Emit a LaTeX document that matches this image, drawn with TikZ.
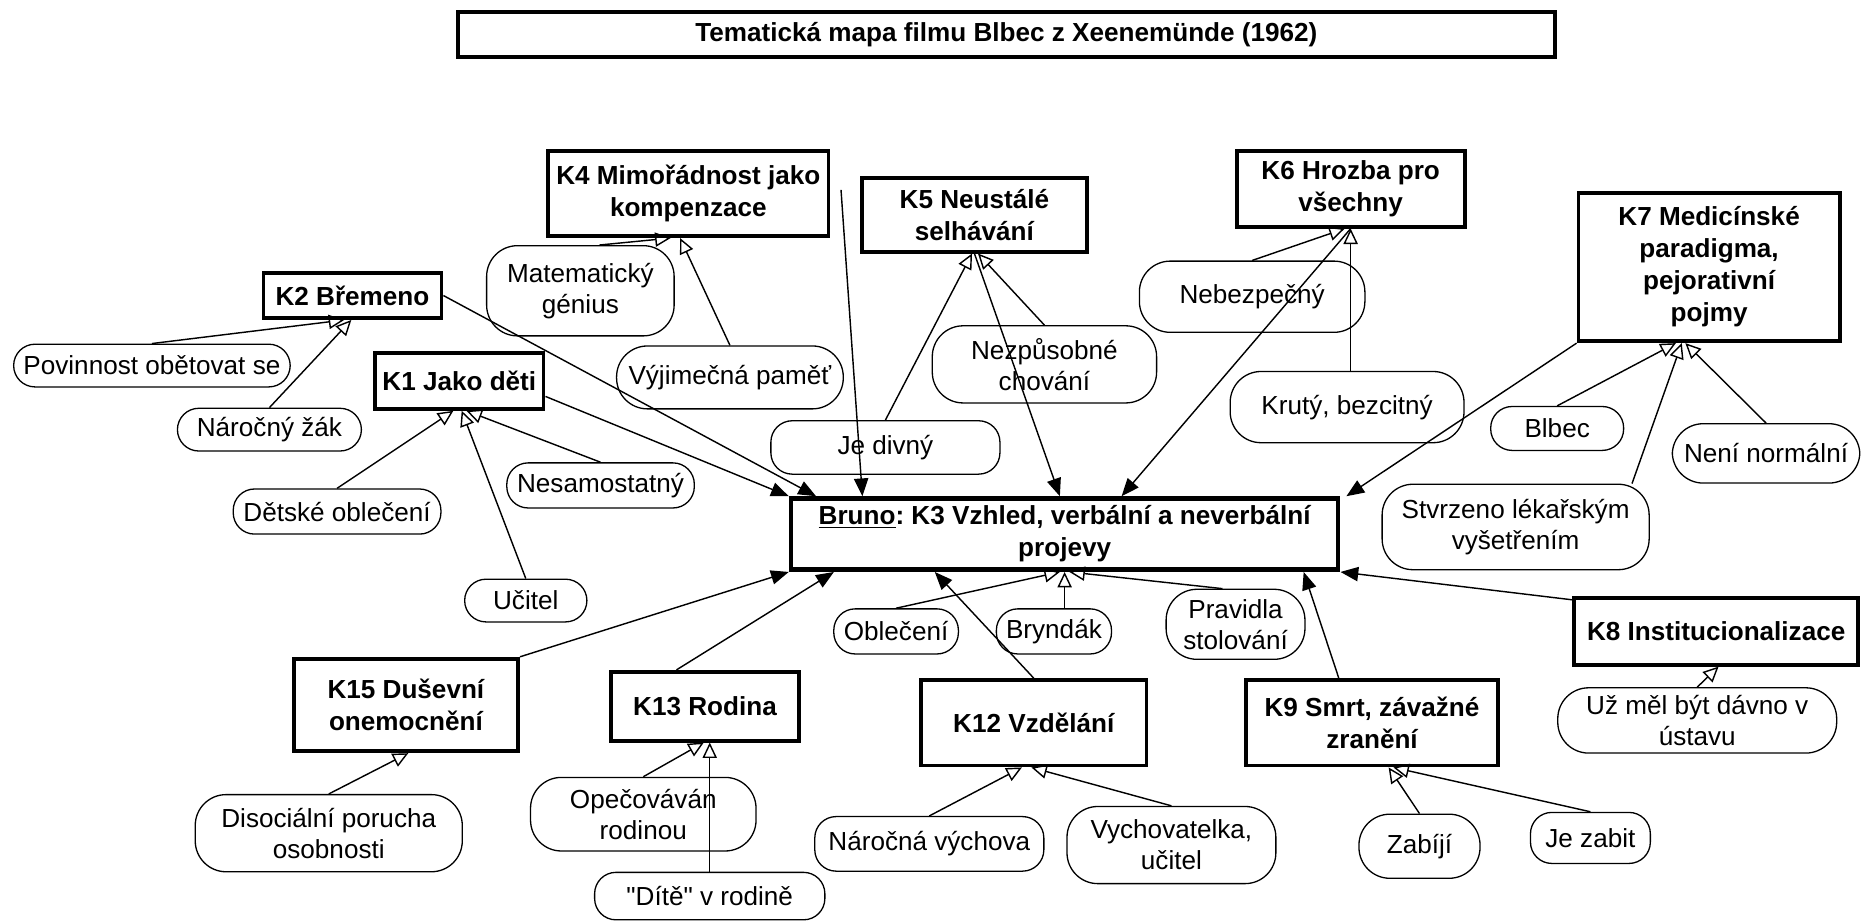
\documentclass[tikz,border=0pt]{standalone}
\usepackage{fontspec}
\setmainfont{Liberation Sans}[Ligatures=TeXOff]
\usepackage{tikz}
\usetikzlibrary{arrows.meta}
\frenchspacing
\tikzstyle{kbox} = [draw, line width=3.2pt, align=center, inner sep=2pt, font=\bfseries\fontsize{22}{27}\selectfont]
\tikzstyle{trait} = [draw, line width=1.1pt, rounded corners=18pt, align=center, inner sep=2pt, font=\fontsize{22}{26}\selectfont]
\tikzstyle{tall} = [rounded corners=26pt]
\tikzstyle{arrow} = [line width=1.2pt, -{Triangle[length=15pt,width=12pt]}]
\tikzstyle{isa} = [line width=1.2pt, -{Triangle[open,length=13pt,width=12pt]}]

\begin{document}
\begin{tikzpicture}[x=1pt, y=-1pt]
\useasboundingbox (0,0) rectangle (1568,776);

% Title
\node[kbox, line width=3.8pt, minimum width=924pt, minimum height=38pt] (title) at (848,29) {Tematická mapa filmu Blbec z Xeenemünde (1962)};

% Themes
\node[kbox, line width=3.8pt, minimum width=461pt, minimum height=60pt] (bruno) at (897,450) {\underline{Bruno}: K3 Vzhled, verbální a neverbální\\projevy};
\node[kbox, minimum width=142pt, minimum height=47pt] (k1) at (387,321) {K1 Jako děti};
\node[kbox, minimum width=150pt, minimum height=38pt] (k2) at (297,249) {K2 Břemeno};
\node[kbox, minimum width=236pt, minimum height=72pt] (k4) at (580,163) {K4 Mimořádnost jako\\kompenzace};
\node[kbox, minimum width=190pt, minimum height=62pt] (k5) at (821,181) {K5 Neustálé\\selhávání};
\node[kbox, minimum width=192pt, minimum height=64pt] (k6) at (1138,159) {K6 Hrozba pro\\všechny};
\node[kbox, minimum width=220pt, minimum height=125pt] (k7) at (1440,225) {K7 Medicínské\\paradigma,\\pejorativní\\pojmy};
\node[kbox, minimum width=239pt, minimum height=56pt] (k8) at (1446,532) {K8 Institucionalizace};
\node[kbox, minimum width=212pt, minimum height=72pt] (k9) at (1156,609) {K9 Smrt, závažné\\zranění};
\node[kbox, minimum width=190pt, minimum height=72pt] (k12) at (871,609) {K12 Vzdělání};
\node[kbox, minimum width=158pt, minimum height=58pt] (k13) at (594,595) {K13 Rodina};
\node[kbox, minimum width=189pt, minimum height=78pt] (k15) at (342,594) {K15 Duševní\\onemocnění};

% Items
\node[trait, tall, minimum width=158pt, minimum height=76pt] (genius) at (489,245) {Matematický\\génius};
\node[trait, tall, minimum width=191pt, minimum height=53pt] (pamet) at (615,318) {Výjimečná paměť};
\node[trait, minimum width=233pt, minimum height=36pt] (povinnost) at (128,308) {Povinnost obětovat se};
\node[trait, minimum width=155pt, minimum height=36pt] (zak) at (227,362) {Náročný žák};
\node[trait, minimum width=175pt, minimum height=38pt] (detske) at (284,431) {Dětské oblečení};
\node[trait, minimum width=158pt, minimum height=38pt] (nesam) at (506,409) {Nesamostatný};
\node[trait, minimum width=103pt, minimum height=36pt] (ucitel) at (443,506) {Učitel};
\node[trait, minimum width=193pt, minimum height=45pt] (divny) at (746,377) {Je divný};
\node[trait, tall, minimum width=189pt, minimum height=65pt] (chovani) at (880,307) {Nezpůsobné\\chování};
\node[trait, tall, minimum width=190pt, minimum height=60pt] (nebezpecny) at (1055,250) {Nebezpečný};
\node[trait, tall, minimum width=197pt, minimum height=60pt] (kruty) at (1135,343) {Krutý, bezcitný};
\node[trait, minimum width=112pt, minimum height=37pt] (blbec) at (1312,361) {Blbec};
\node[trait, tall, minimum width=158pt, minimum height=50pt] (nenormalni) at (1488,382) {Není normální};
\node[trait, tall, minimum width=225pt, minimum height=72pt] (lekar) at (1277,444) {Stvrzeno lékařským\\vyšetřením};
\node[trait, minimum width=105pt, minimum height=38pt] (obleceni) at (755,532) {Oblečení};
\node[trait, minimum width=97pt, minimum height=38pt] (bryndak) at (888,532) {Bryndák};
\node[trait, tall, minimum width=117pt, minimum height=59pt] (stolovani) at (1041,526) {Pravidla\\stolování};
\node[trait, tall, minimum width=235pt, minimum height=55pt] (ustav) at (1430,607) {Už měl být dávno v\\ústavu};
\node[trait, tall, minimum width=225pt, minimum height=65pt] (porucha) at (277,702) {Disociální porucha\\osobnosti};
\node[trait, tall, minimum width=190pt, minimum height=62pt] (opecovavan) at (542,686) {Opečováván\\rodinou};
\node[trait, minimum width=194pt, minimum height=40pt] (dite) at (598,755) {"Dítě" v rodině};
\node[trait, minimum width=193pt, minimum height=46pt] (vychova) at (783,711) {Náročná výchova};
\node[trait, tall, minimum width=176pt, minimum height=65pt] (vychovatelka) at (987,712) {Vychovatelka,\\učitel};
\node[trait, tall, minimum width=102pt, minimum height=54pt] (zabiji) at (1196,713) {Zabíjí};
\node[trait, minimum width=101pt, minimum height=43pt] (zabit) at (1340,706) {Je zabit};

% Themes into Bruno
\draw[arrow] ([yshift=-13pt]k1.east) -- (bruno.north west);
\draw[arrow] (k2.east) -- ([xshift=23pt]bruno.north west);
\draw[arrow] ([xshift=9pt,yshift=3pt]k4.east) -- ([xshift=62pt]bruno.north west);
\draw[arrow] (k5.south) -- ([xshift=-4pt]bruno.north);
\draw[arrow] (k6.south) -- ([xshift=48pt]bruno.north);
\draw[arrow] (k7.south west) -- ([xshift=5pt]bruno.north east);
\draw[arrow] ([yshift=-3pt]k8.north west) -- (bruno.south east);
\draw[arrow] ([xshift=-28pt]k9.north) -- ([xshift=-31pt]bruno.south east);
\draw[arrow] (k12.north) -- ([xshift=123pt]bruno.south west);
\draw[arrow] ([xshift=-24pt]k13.north) -- ([xshift=38pt]bruno.south west);
\draw[arrow] (k15.north east) -- (bruno.south west);

% Items into themes
\draw[isa] (povinnost.north) -- ([xshift=-7pt]k2.south);
\draw[isa] (zak.north) -- ([xshift=-1pt]k2.south);
\draw[isa] (detske.north) -- ([xshift=-5pt]k1.south);
\draw[isa] (ucitel.north) -- ([xshift=2pt]k1.south);
\draw[isa] (nesam.north) -- ([xshift=6pt]k1.south);
\draw[isa] ([xshift=16pt]genius.north) -- ([xshift=-15pt]k4.south);
\draw[isa] (pamet.north) -- ([xshift=-7pt]k4.south);
\draw[isa] (divny.north) -- ([xshift=-2pt]k5.south);
\draw[isa] (chovani.north) -- ([xshift=3pt]k5.south);
\draw[isa] (nebezpecny.north) -- ([xshift=-5pt]k6.south);
\draw[isa] ([xshift=3pt]kruty.north) -- (k6.south);
\draw[isa] (blbec.north) -- ([xshift=-28pt]k7.south);
\draw[isa] ([xshift=-15pt]lekar.north east) -- ([xshift=-23pt]k7.south);
\draw[isa] (nenormalni.north) -- ([xshift=-20pt]k7.south);
\draw[isa] (obleceni.north) -- ([xshift=-4pt]bruno.south);
\draw[isa] ([xshift=9pt]bryndak.north) -- (bruno.south);
\draw[isa] ([xshift=-11pt]stolovani.north) -- ([xshift=4pt]bruno.south);
\draw[isa] (ustav.north) -- ([xshift=2pt]k8.south);
\draw[isa] (porucha.north) -- ([xshift=2pt]k15.south);
\draw[isa] (opecovavan.north) -- ([xshift=-1pt]k13.south);
\draw[isa] (dite.north) -- ([xshift=4pt]k13.south);
\draw[isa] (vychova.north) -- ([xshift=-10pt]k12.south);
\draw[isa] (vychovatelka.north) -- ([xshift=-2pt]k12.south);
\draw[isa] (zabiji.north) -- ([xshift=14pt]k9.south);
\draw[isa] (zabit.north) -- ([xshift=18pt]k9.south);
\end{tikzpicture}
\end{document}
